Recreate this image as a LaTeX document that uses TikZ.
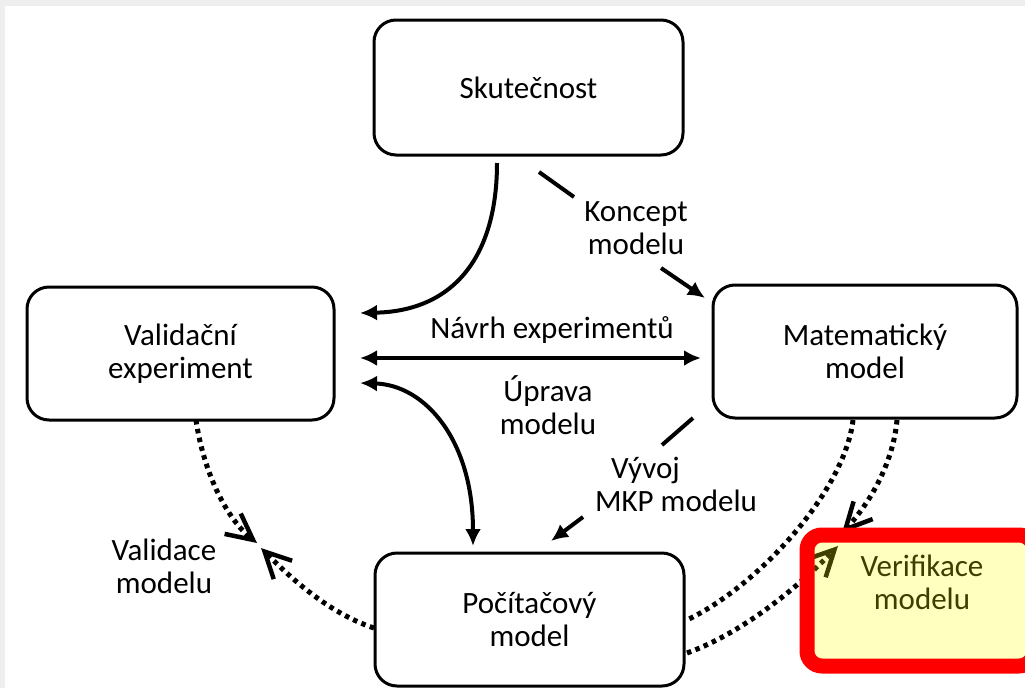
\documentclass[tikz,border=0pt]{standalone}
\usepackage{fontspec}
\setmainfont{Carlito}
\usetikzlibrary{arrows.meta}
\definecolor{bggray}{RGB}{238,238,238}
\definecolor{hiyellow}{RGB}{255,255,4}
\definecolor{olivetext}{RGB}{62,62,0}
\definecolor{hired}{RGB}{255,0,0}
\newcommand{\dfont}{\fontsize{31}{33}\selectfont}
\begin{document}
\begin{tikzpicture}[x=1pt,y=-1pt,
  box/.style={draw, line width=3pt, rounded corners=22pt, align=center, font=\dfont},
  lbl/.style={align=center, font=\dfont, inner sep=0pt},
  conn/.style={line width=4pt},
  sol/.style={conn, -{Latex[length=17pt,width=16pt]}},
  solboth/.style={conn, {Latex[length=17pt,width=16pt]}-{Latex[length=17pt,width=16pt]}},
  dots/.style={line width=5pt, dash pattern=on 4.5pt off 4.5pt},
  dotarrow/.style={dots, -{Straight Barb[length=26pt,width=26pt,line width=4.5pt]}}
]
\useasboundingbox (0,0) rectangle (1025,688);
\fill[bggray] (0,0) rectangle (1025,688);
\fill[white] (5,6) rectangle (1025,688);

% main boxes
\node[box, minimum width=309pt, minimum height=135pt] (sk) at (528.5,87.5) {Skutečnost};
\node[box, minimum width=307pt, minimum height=133pt] (val) at (180.5,353.5) {Validační\\experiment};
\node[box, minimum width=304pt, minimum height=133pt] (mat) at (865,351.5) {Matematický\\model};
\node[box, minimum width=309pt, minimum height=133pt] (poc) at (529.5,619.5) {Počítačový\\model};

% labels
\node[lbl] (koncept) at (636,228) {Koncept\\modelu};
\node[lbl] (navrh) at (552,330) {Návrh experimentů};
\node[lbl] (uprava) at (548,405) {Úprava\\modelu};
\node[lbl, align=left] (vyvoj) at (676,484) {\hspace*{16pt}Vývoj\\MKP modelu};
\node[lbl] (validace) at (164,566) {Validace\\modelu};

% connector end points
\coordinate (s1) at (497,163);
\coordinate (s2) at (360,313);
\coordinate (k1) at (539,172);
\coordinate (k2) at (574,197);
\coordinate (k3) at (661,268);
\coordinate (k4) at (705,298);
\coordinate (n1) at (360,358);
\coordinate (n2) at (701,358);
\coordinate (u1) at (360,383);
\coordinate (u2) at (473,546);
\coordinate (v1) at (693,418);
\coordinate (v2) at (662,445);
\coordinate (v3) at (583,517);
\coordinate (v4) at (551,541);
\coordinate (d1) at (196,420);
\coordinate (d2) at (257,543);
\coordinate (d3) at (374,628);
\coordinate (d4) at (261,548);
\coordinate (e1) at (853,420);
\coordinate (e2) at (687,620);
\coordinate (e3) at (897,420);
\coordinate (e4) at (842,533);
\coordinate (e5) at (687,653);
\coordinate (e6) at (838,546);

% Skutečnost -> Validační experiment
\draw[sol] (s1) .. controls (497,255) and (455,311) .. (s2);
% Koncept modelu
\draw[conn] (k1) -- (k2);
\draw[sol] (k3) -- (k4);
% Návrh experimentů
\draw[solboth] (n1) -- (n2);
% Úprava modelu
\draw[solboth] (u1) .. controls (425,385) and (473,440) .. (u2);
% Vývoj MKP modelu
\draw[conn] (v1) -- (v2);
\draw[sol] (v3) -- (v4);
% Validace modelu
\draw[dotarrow] (d1) .. controls (204,475) and (228,520) .. (d2);
\draw[dotarrow] (d3) .. controls (325,612) and (285,572) .. (d4);
% Verifikace modelu
\draw[dots] (e1) .. controls (845,490) and (760,585) .. (e2);
\draw[dotarrow] (e3) .. controls (893,465) and (868,505) .. (e4);
\draw[dotarrow] (e5) .. controls (745,632) and (800,585) .. (e6);

% highlighted box
\fill[hiyellow, fill opacity=0.25, rounded corners=15pt] (807,535) rectangle (1034,666);
\draw[hired, line width=15pt, rounded corners=15pt] (807,535) rectangle (1034,666);
\node[lbl, text=olivetext] (verif) at (922,582) {Verifikace\\modelu};
\end{tikzpicture}
\end{document}
